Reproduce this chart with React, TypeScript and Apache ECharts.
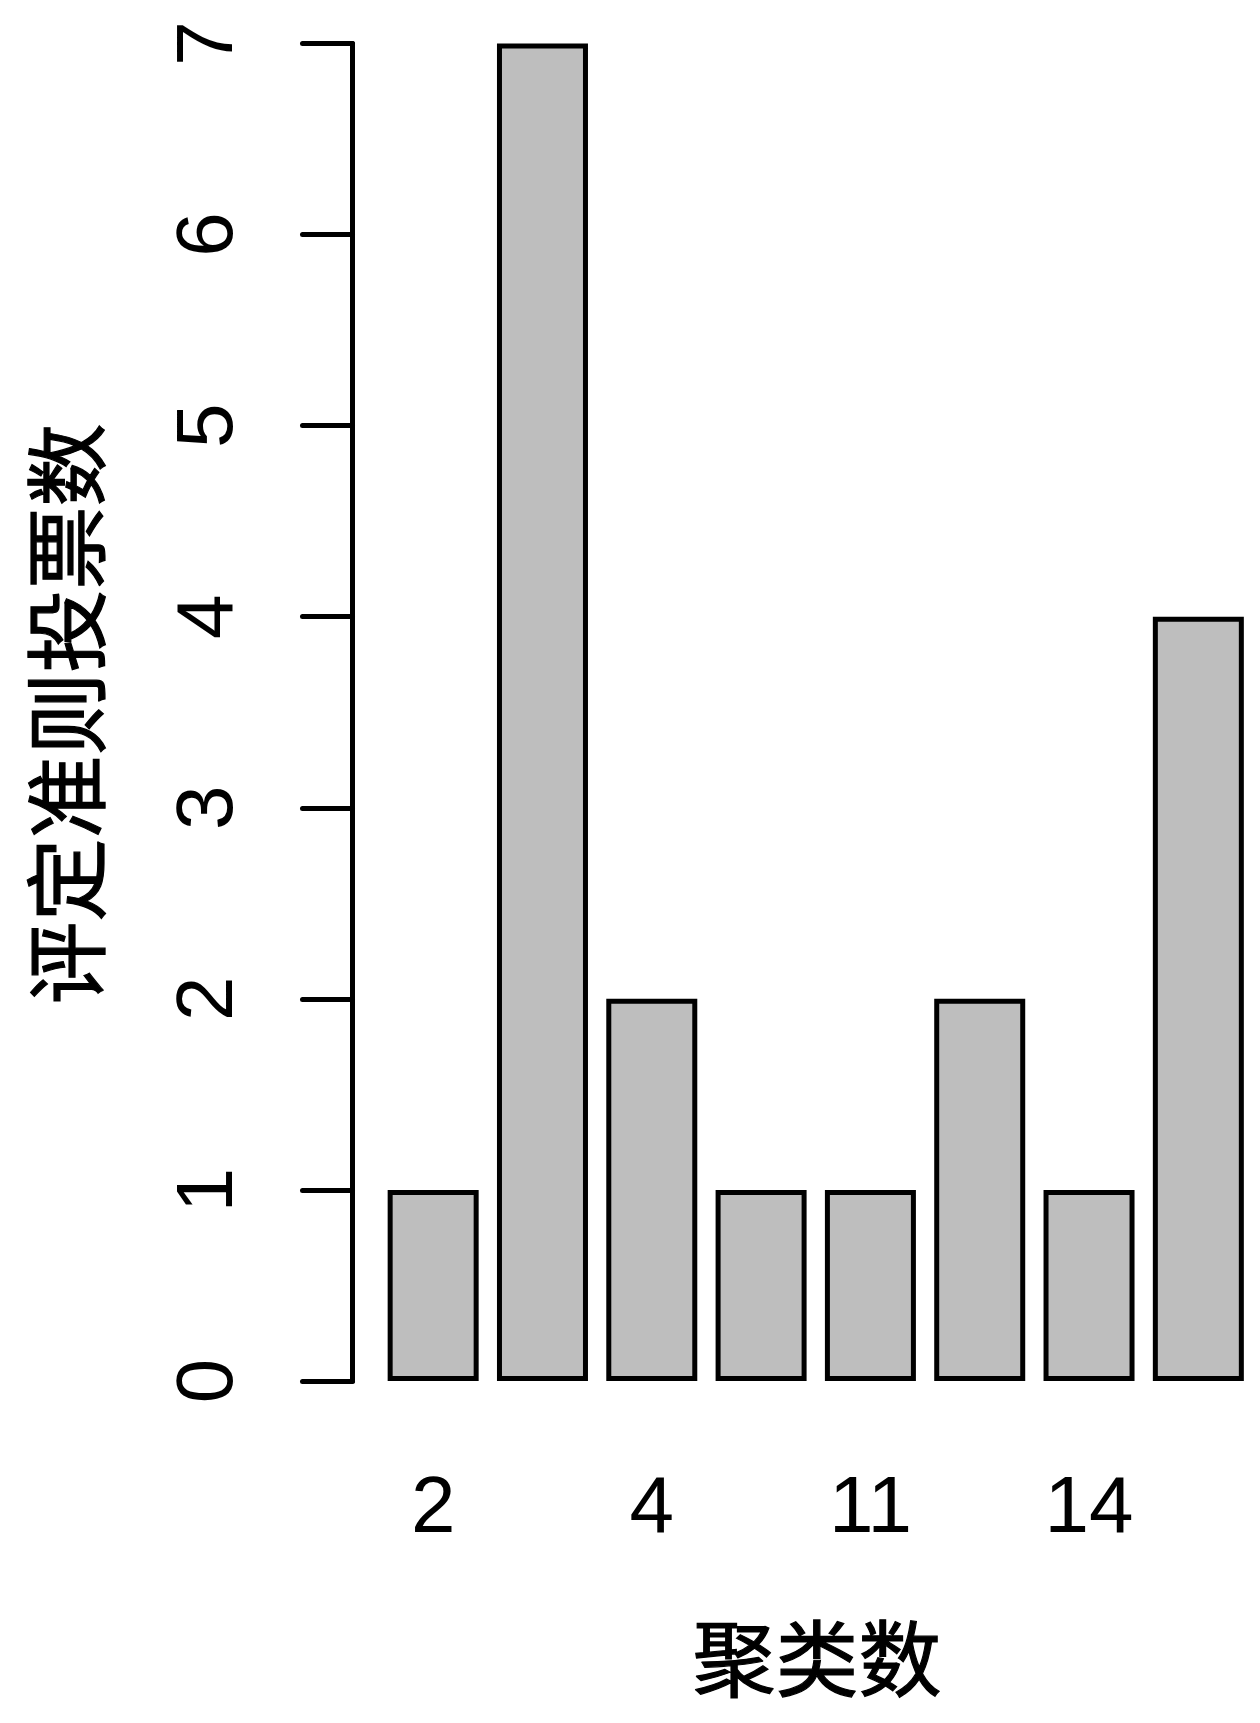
import React, { useEffect, useRef } from "react";
import * as echarts from "echarts";

const categories = ["2", "3", "4", "10", "11", "12", "14", "15"];
const votes = [1, 7, 2, 1, 1, 2, 1, 4];
const yTicks = [0, 1, 2, 3, 4, 5, 6, 7];
const xTitle = "聚类数";
const yTitle = "评定准则投票数";

export default function App() {
  const ref = useRef<HTMLDivElement>(null);
  useEffect(() => {
    if (!ref.current) return;
    const chart = echarts.init(ref.current, null, { renderer: "svg" });
    const digitFont = "'Liberation Sans', Arial, sans-serif";
    const cjkFont = "'Noto Sans CJK SC', sans-serif";
    chart.setOption({
      animation: false,
      backgroundColor: "#ffffff",
      grid: { left: 378.5, right: 7, top: 43.5, bottom: 342, containLabel: false },
      xAxis: {
        type: "category",
        data: categories,
        axisLine: { show: false },
        axisTick: { show: false },
        axisLabel: {
          interval: 1,
          fontSize: 80,
          lineHeight: 80,
          color: "#000",
          fontFamily: digitFont,
          margin: 83,
        },
      },
      yAxis: {
        type: "value",
        min: yTicks[0],
        max: yTicks[yTicks.length - 1],
        interval: 1,
        offset: 26,
        splitLine: { show: false },
        axisLine: { show: true, lineStyle: { color: "#000", width: 5, cap: "round" } },
        axisTick: { show: true, length: 50, lineStyle: { color: "#000", width: 5, cap: "round" } },
        axisLabel: {
          rotate: 90,
          fontSize: 80,
          lineHeight: 80,
          color: "#000",
          fontFamily: digitFont,
          margin: 108,
        },
      },
      series: [
        {
          type: "bar",
          data: votes,
          barWidth: 91,
          itemStyle: { color: "#BEBEBE", borderColor: "#000", borderWidth: 5 },
        },
      ],
      graphic: [
        {
          type: "text",
          x: 817,
          y: 1654,
          style: {
            text: xTitle,
            fontSize: 83,
            fontFamily: cjkFont,
            fill: "#000",
            stroke: "#000",
            lineWidth: 1.2,
            align: "center",
            verticalAlign: "middle",
          },
        },
        {
          type: "text",
          x: 62,
          y: 714,
          rotation: Math.PI / 2,
          style: {
            text: yTitle,
            fontSize: 83,
            fontFamily: cjkFont,
            fill: "#000",
            stroke: "#000",
            lineWidth: 1.2,
            align: "center",
            verticalAlign: "middle",
          },
        },
      ],
    });
    return () => chart.dispose();
  }, []);
  return (
    <div
      ref={ref}
      style={{ position: "absolute", left: 0, top: 0, width: 1260, height: 1723 }}
    />
  );
}
